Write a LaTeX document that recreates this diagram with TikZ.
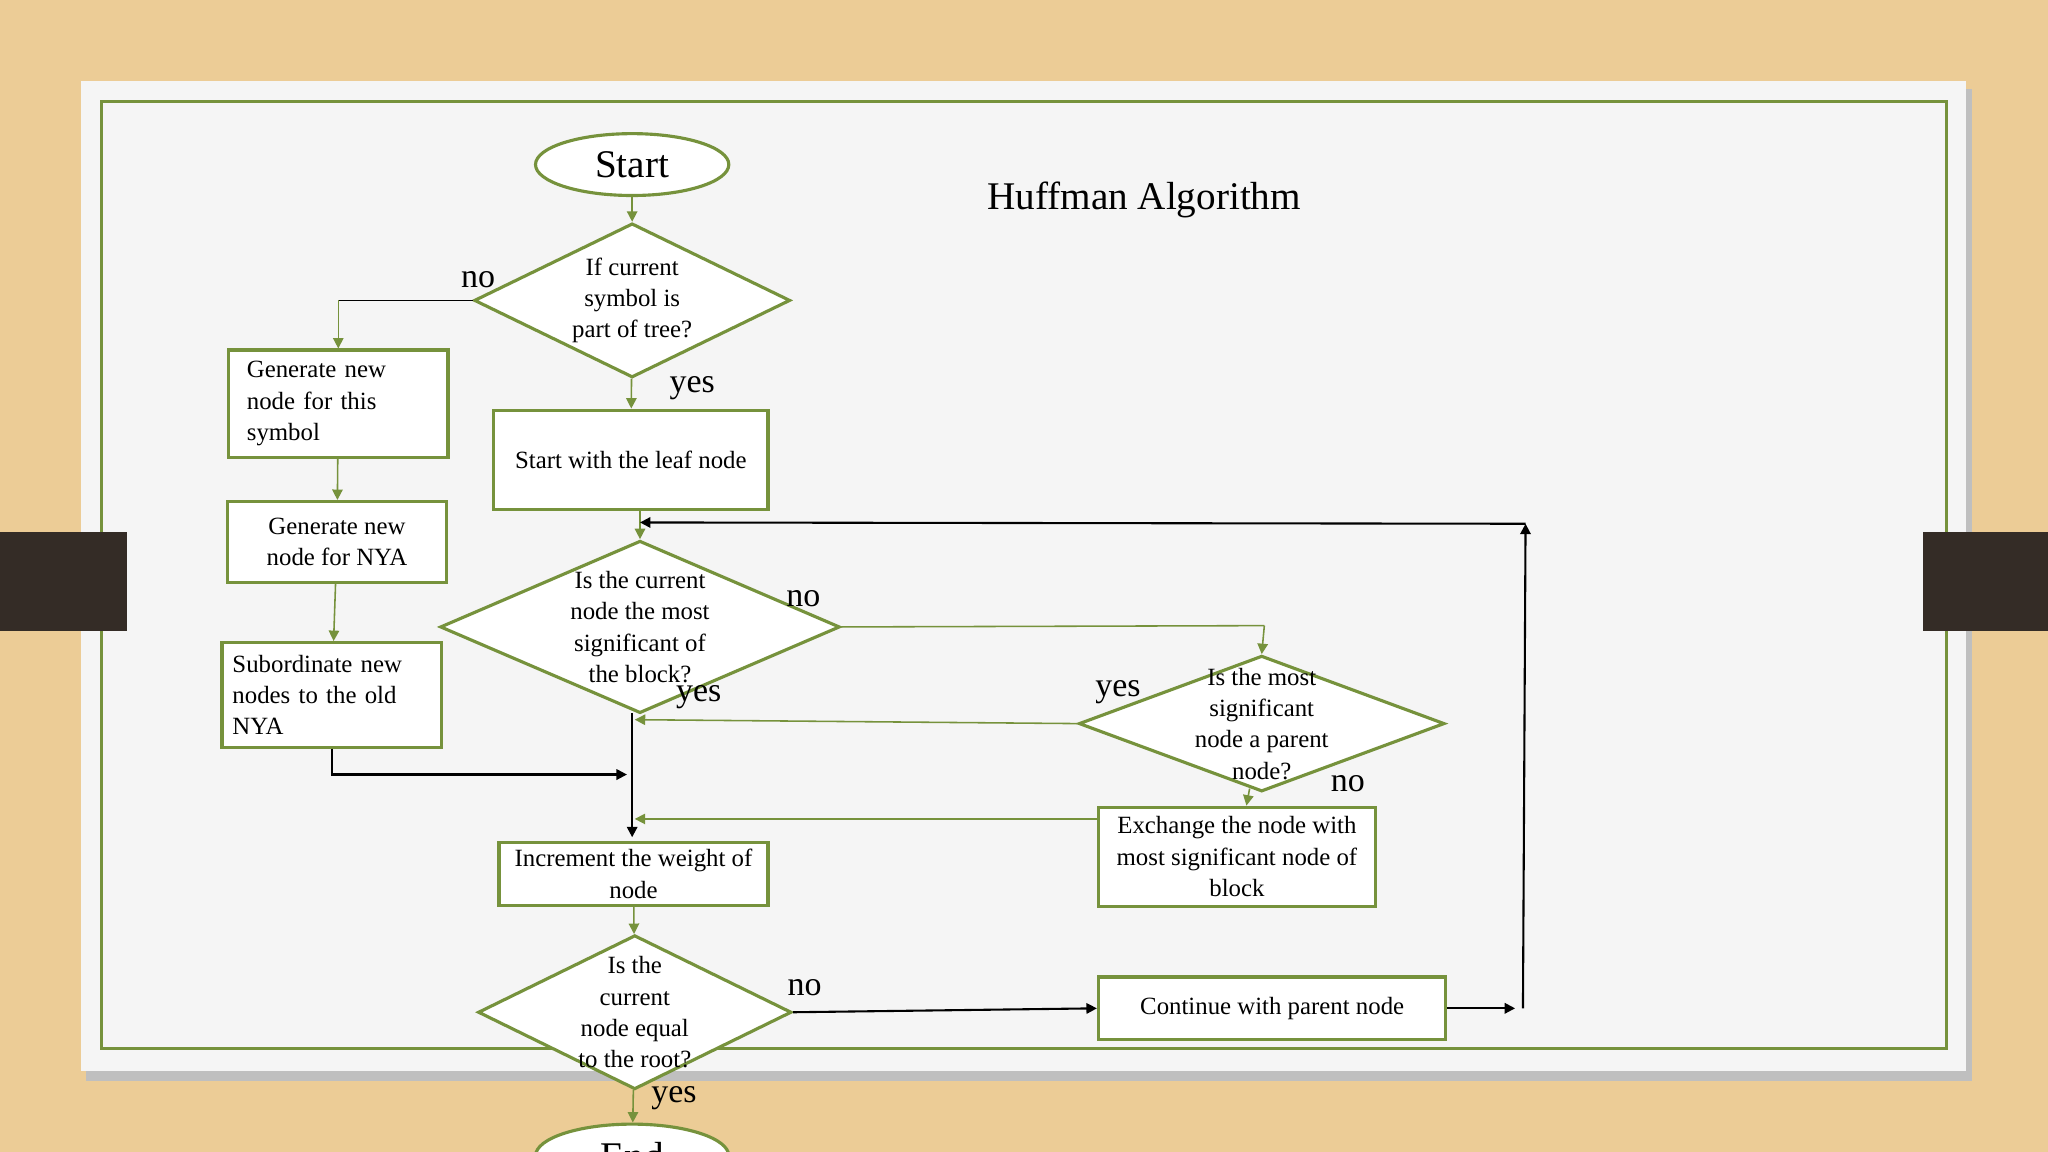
\documentclass[tikz,border=0pt]{standalone}
\usepackage{fontspec}
\setmainfont{Liberation Serif}
\usetikzlibrary{shapes.geometric,arrows.meta}
\definecolor{leaf}{RGB}{118,146,60}
\definecolor{wood}{RGB}{236,204,150}
\definecolor{bar}{RGB}{52,44,38}
\tikzset{
  box/.style={draw=leaf,line width=1.2pt,fill=white,align=left,font=\fontsize{9.5}{12}\selectfont,inner sep=0pt},
  ask/.style={draw=leaf,line width=1.2pt,fill=white,diamond,aspect=2,align=center,inner sep=-12pt,font=\fontsize{9.5}{12}\selectfont},
  term/.style={draw=leaf,line width=1.2pt,fill=white,ellipse,minimum width=74pt,minimum height=23pt,font=\fontsize{15}{15}\selectfont},
  gr/.style={draw=leaf,line width=0.6pt,-{Triangle[length=4pt,width=4pt]}},
  bk/.style={draw=black,line width=0.8pt,-{Triangle[length=4pt,width=4pt]}},
  lbl/.style={font=\fontsize{13}{13}\selectfont}
}
\begin{document}
\begin{tikzpicture}[x=0.5pt,y=-0.5pt]
\useasboundingbox (0,0) rectangle (1568,882);
\clip (0,0) rectangle (1568,882);
% slide
\fill[wood] (0,0) rectangle (1568,882);
\fill[black!25] (66,68) rectangle (1510,828);
\fill[white!96!black] (62,62) rectangle (1505,820);
\draw[leaf,line width=1.2pt] (78,78) rectangle (1490,803);
\fill[bar] (0,407) rectangle (97,483);
\fill[bar] (1472,407) rectangle (1568,483);
\node[font=\fontsize{15}{15}\selectfont] (title) at (876,153) {Huffman Algorithm};

% nodes
\node[term] (start) at (484,126) {Start};
\node[ask,minimum width=121pt,minimum height=59pt] (d1) at (484,230) {If current\\symbol is\\part of tree?};
\node[box,minimum width=84pt,minimum height=41pt,text width=70pt] (gen1) at (259,309) {Generate new\\node for this\\symbol};
\node[box,minimum width=84pt,minimum height=31pt,align=center] (gen2) at (258,415) {Generate new\\node for NYA};
\node[box,minimum width=84pt,minimum height=40pt,text width=76pt] (sub) at (254,532) {Subordinate new\\nodes to the old\\NYA};
\node[box,minimum width=105pt,minimum height=38pt,align=center] (leafn) at (483,352) {Start with the leaf node};
\node[ask,minimum width=153pt,minimum height=66pt] (d2) at (490,480) {Is the current\\node the most\\significant of\\the block?};
\node[ask,minimum width=140pt,minimum height=52pt] (d3) at (966,554) {Is the most\\significant\\node a parent\\node?};
\node[box,minimum width=106pt,minimum height=38pt,align=center] (swap) at (947,656) {Exchange the node with\\most significant node of\\block};
\node[box,minimum width=103pt,minimum height=24pt,align=center] (inc) at (485,669) {Increment the weight of\\node};
\node[ask,minimum width=120pt,minimum height=59pt] (d4) at (486,775) {Is the\\current\\node equal\\to the root?};
\node[box,minimum width=133pt,minimum height=24pt,align=center] (par) at (974,772) {Continue with parent node};
\node[term] (stop) at (484,885) {End};

% connectors
\coordinate (c1) at (259,230);
\coordinate (c3) at (480,593);
\coordinate (c4) at (968,479);
\coordinate (c5) at (1160,772);
\coordinate (c6) at (1166,772);
\coordinate (c7) at (1168,401);
\draw[gr] (start) -- (d1);
\draw[black,line width=0.6pt] (d1.west) -- (c1);
\draw[gr] (c1) -- (gen1.north);
\draw[gr] (d1) -- (leafn);
\draw[gr] (gen1) -- (gen2);
\draw[gr] (gen2) -- (sub);
\draw[bk] (sub.south) |- (c3);
\draw[gr] (leafn.south -| d2.north) -- (d2.north);
\draw[bk] (484,546) -- (484,641);
\draw[leaf,line width=0.6pt] (d2.east) -- (c4);
\draw[gr] (c4) -- (d3.north);
\draw[gr] (d3.west) -- (486,551);
\draw[gr] (d3) -- (swap);
\draw[gr] (swap.west |- 0,627) -- (486,627);
\draw[gr] (inc) -- (d4);
\draw[bk] (d4.east) -- (par.west);
\draw[gr] (d4) -- (stop);
\draw[bk] (par.east) -- (c5);
\draw[bk] (c6) -- (c7);
\draw[bk] (c7) -- (d2.north |- 0,400);

% labels
\node[lbl] (no1) at (366,214) {no};
\node[lbl] (yes1) at (530,297) {yes};
\node[lbl] (no2) at (615,458) {no};
\node[lbl] (yes2) at (535,534) {yes};
\node[lbl] (yes3) at (856,530) {yes};
\node[lbl] (no3) at (1032,600) {no};
\node[lbl] (no4) at (616,756) {no};
\node[lbl] (yes4) at (516,841) {yes};
\end{tikzpicture}
\end{document}
